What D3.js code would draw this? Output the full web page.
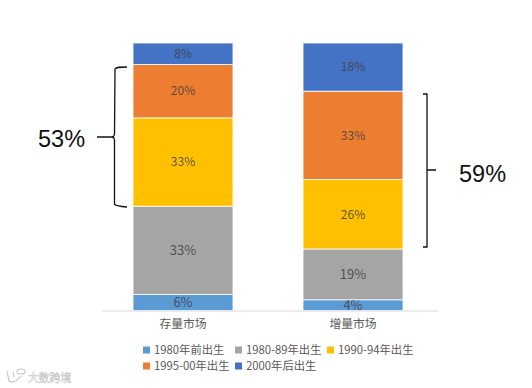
<!DOCTYPE html>
<html>
<head>
<meta charset="utf-8">
<script src="https://cdn.jsdelivr.net/npm/d3@7"></script>
<style>
    html, body { margin: 0; padding: 0; background: #fff; }
    svg { display: block; }
    text { font-family: "Noto Sans CJK SC", "Liberation Sans", sans-serif; }
</style>
</head>
<body>
<div id="chart"></div>
<script>
// categories and series
var categories = ["存量市场", "增量市场"];
var seriesNames = ["1980年前出生", "1980-89年出生", "1990-94年出生", "1995-00年出生", "2000年后出生"];
var before1980 = [6, 4];
var from1980 = [33, 19];
var from1990 = [33, 26];
var from1995 = [20, 33];
var after2000 = [8, 18];
var colors = ["#5b9bd5", "#a5a5a5", "#ffc000", "#ed7d31", "#4472c4"];

var values = [before1980, from1980, from1990, from1995, after2000];

var width = 532, height = 388;

var svg = d3.select("#chart")
    .append("svg")
    .attr("width", width)
    .attr("height", height);

var x = d3.scaleBand()
    .domain(categories)
    .range([98, 438])
    .paddingInner(0.412)
    .paddingOuter(0.206);

var y = d3.scaleLinear()
    .domain([0, 100])
    .range([310.5, 43]);

// stacked rows, one per category
var rows = categories.map(function (c, i) {
    var row = { category: c };
    seriesNames.forEach(function (s, j) { row[s] = values[j][i]; });
    return row;
});
var stacked = d3.stack().keys(seriesNames)(rows);

var groups = svg.selectAll("g.series")
    .data(stacked)
    .enter()
    .append("g")
    .attr("class", "series")
    .attr("fill", function (d, i) { return colors[i]; })
    .attr("data-size", function (d, i) { return i < 2 ? "13px" : "12px"; });

groups.selectAll("rect")
    .data(function (d) { return d; })
    .enter()
    .append("rect")
    .attr("x", function (d) { return x(d.data.category); })
    .attr("y", function (d) { return y(d[1]); })
    .attr("width", x.bandwidth())
    .attr("height", function (d) { return y(d[0]) - y(d[1]); })
    .attr("stroke", "#fff")
    .attr("stroke-width", 0.8);

// value labels in the middle of each segment, the two lower series are a bit bigger
groups.each(function (s, i) {
    d3.select(this).selectAll("text")
        .data(s)
        .enter()
        .append("text")
        .attr("x", function (d) { return x(d.data.category) + x.bandwidth() / 2; })
        .attr("y", function (d) { return y((d[0] + d[1]) / 2); })
        .attr("dy", "0.36em")
        .attr("text-anchor", "middle")
        .attr("fill", "#404040")
        .attr("fill-opacity", 0.85)
        .style("font-size", i < 2 ? "13px" : "12px")
        .text(function (d) { return (d[1] - d[0]) + "%"; });
});

// X axis
var xAxis = svg.append("g")
    .attr("transform", "translate(0," + y(0) + ")")
    .call(d3.axisBottom(x).tickSize(0).tickPadding(9));
xAxis.select(".domain").remove();
xAxis.selectAll("text")
    .attr("fill", "#595959")
    .style("font-size", "11.8px");
svg.append("line")
    .attr("x1", 102).attr("x2", 439)
    .attr("y1", y(0) + 0.5).attr("y2", y(0) + 0.5)
    .attr("stroke", "#d9d9d9");

// legend, two rows
var legendPos = [[143, 350], [235, 350], [327, 350], [143, 366], [235, 366]];
var legend = svg.selectAll("g.legend")
    .data(seriesNames)
    .enter()
    .append("g")
    .attr("class", "legend")
    .attr("transform", function (d, i) { return "translate(" + legendPos[i][0] + "," + legendPos[i][1] + ")"; });
legend.append("rect")
    .attr("x", 0).attr("y", -3.5)
    .attr("width", 7).attr("height", 7)
    .attr("fill", function (d, i) { return colors[i]; });
legend.append("text")
    .attr("x", 11)
    .attr("dy", "0.36em")
    .attr("fill", "#595959")
    .style("font-size", "11.3px")
    .text(function (d) { return d; });

// braces
var brace = svg.append("g")
    .attr("fill", "none")
    .attr("stroke", "#111")
    .attr("stroke-width", 1.3);
brace.append("path")
    .attr("d", "M127,67 C120,67 116,67 115,69 L114.5,134 Q114,137 112,137 L97,137 L112,137 Q114,137 114.5,140 L114.5,204 Q115,206 127,207");
brace.append("path")
    .attr("d", "M423,94 L427,94 L427,247 L423,247 M427,170 L436,170");

// big percentages
svg.append("text")
    .attr("x", 38).attr("y", 147)
    .attr("fill", "#111")
    .style("font-family", "Liberation Sans")
    .style("font-size", "23.5px")
    .text("53%");
svg.append("text")
    .attr("x", 459).attr("y", 182)
    .attr("fill", "#111")
    .style("font-family", "Liberation Sans")
    .style("font-size", "23.5px")
    .text("59%");

// watermark
var mark = svg.append("g").attr("fill", "none").attr("stroke", "#c8c8c8").attr("stroke-width", 1.2);
mark.append("path").attr("d", "M7,371 L9,381 Q15,384 21,376");
mark.append("path").attr("d", "M13,372 L14,377");
mark.append("ellipse").attr("cx", 21).attr("cy", 371.5).attr("rx", 4).attr("ry", 2.5);
svg.append("text")
    .attr("x", 28).attr("y", 381.5)
    .attr("fill", "#fff")
    .attr("stroke", "#c4c4c4")
    .attr("stroke-width", 0.5)
    .style("font-size", "10.8px")
    .text("大数跨境");
</script>
</body>
</html>
